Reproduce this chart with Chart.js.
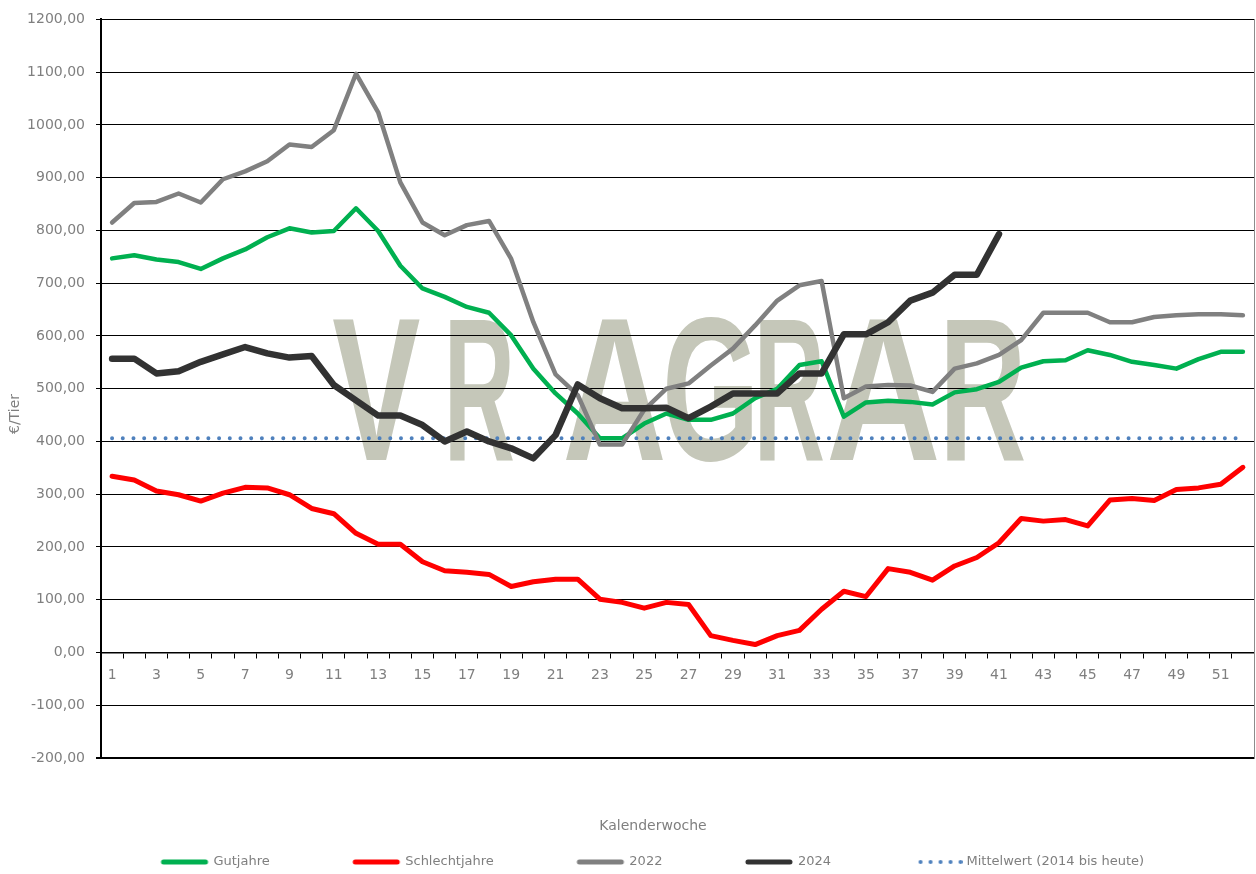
<!DOCTYPE html>
<html>
<head>
<meta charset="utf-8">
<script src="https://cdn.jsdelivr.net/npm/chart.js@4.4.0/dist/chart.umd.min.js"></script>
<style>
  html, body { margin: 0; padding: 0; background: #ffffff; }
  #wrap { width: 1256px; height: 874px; }
</style>
</head>
<body>
<div id="wrap"><canvas id="c" width="1256" height="874"></canvas></div>
<script>
const weeks = ['1','2','3','4','5','6','7','8','9','10','11','12','13','14','15','16','17','18','19','20','21','22','23','24','25','26','27','28','29','30','31','32','33','34','35','36','37','38','39','40','41','42','43','44','45','46','47','48','49','50','51','52'];

const gutjahre = [747,753,745,740,727,747,764,787,804,796,799,842,799,733,690,674,655,644,601,538,491,453,406,406,434,453,441,441,453,482,500,545,552,447,474,477,475,470,493,499,513,540,552,554,573,564,551,545,538,556,570,570];

const schlechtjahre = [334,327,306,299,287,302,313,312,299,273,263,226,205,205,172,155,152,148,125,134,139,139,101,95,84,95,91,32,23,15,32,42,82,116,106,159,152,137,164,180,208,254,249,252,240,289,292,288,309,312,319,351];

const jahr2022 = [815,852,854,870,853,897,912,931,963,958,990,1097,1024,891,815,791,810,818,746,626,527,488,394,394,460,500,510,544,576,620,667,696,704,482,504,507,506,494,538,548,564,592,644,644,644,626,626,636,639,641,641,639];

const jahr2024 = [557,557,529,533,551,565,579,567,559,562,507,478,449,449,431,400,419,400,387,368,412,508,482,463,463,464,444,466,491,491,491,529,529,603,603,626,667,682,716,716,793,null,null,null,null,null,null,null,null,null,null,null];

const mittelwert = [406,406,406,406,406,406,406,406,406,406,406,406,406,406,406,406,406,406,406,406,406,406,406,406,406,406,406,406,406,406,406,406,406,406,406,406,406,406,406,406,406,406,406,406,406,406,406,406,406,406,406,406];

const seriesNames = ['Gutjahre', 'Schlechtjahre', '2022', '2024', 'Mittelwert (2014 bis heute)'];
const seriesColors = ['#00b050', '#ff0000', '#808080', '#323232', '#4f81bd'];

const yMin = -200, yMax = 1200, yStep = 100;
const FONT = 'DejaVu Sans';
const TEXT_GRAY = '#7f7f7f';

// watermark "VR AGRAR" letters (decoration, left/right ink edges in px)
const watermarkLetters = [['V',333,420],['R',450,513],['A',566,663],['G',667,752],['R',760,823],['A',830,937],['R',947,1024]];

function legendLine(color, dotted) {
  const c = document.createElement('canvas');
  c.width = 50; c.height = 8;
  const g = c.getContext('2d');
  g.fillStyle = color; g.strokeStyle = color;
  if (dotted) {
    for (let k = 0; k < 5; k++) {
      g.beginPath(); g.arc(8 + k * 10, 4, 2, 0, Math.PI * 2); g.fill();
    }
  } else {
    g.lineWidth = 5; g.lineCap = 'round';
    g.beginPath(); g.moveTo(4, 4); g.lineTo(46, 4); g.stroke();
  }
  return c;
}

const decor = {
  id: 'decor',
  afterLayout(chart) {
    const lg = chart.legend;
    if (lg) { lg.left = 52; lg.width = lg.right - lg.left; }
  },
  beforeDraw(chart) {
    const ctx = chart.ctx;
    ctx.save();
    ctx.fillStyle = 'rgb(197,199,185)';
    ctx.font = 'bold 205px "Liberation Sans"';
    ctx.textBaseline = 'alphabetic';
    ctx.textAlign = 'left';
    watermarkLetters.forEach(([ch, l, r]) => {
      const m = ctx.measureText(ch);
      const inkW = m.actualBoundingBoxRight + m.actualBoundingBoxLeft;
      const s = (r - l) / inkW;
      ctx.save();
      ctx.translate(l + s * m.actualBoundingBoxLeft, 460);
      ctx.scale(s, 1);
      ctx.fillText(ch, 0, 0);
      ctx.restore();
    });
    ctx.restore();
  },
  afterDraw(chart) {
    const ctx = chart.ctx;
    ctx.save();
    ctx.translate(15, 414);
    ctx.rotate(-Math.PI / 2);
    ctx.fillStyle = TEXT_GRAY;
    ctx.font = '14px "' + FONT + '"';
    ctx.textAlign = 'center';
    ctx.textBaseline = 'middle';
    ctx.fillText('€/Tier', 0, 0);
    ctx.restore();
  }
};

const lineBase = { pointRadius: 0, pointHoverRadius: 0, tension: 0, fill: false, borderJoinStyle: 'round', borderCapStyle: 'round' };

new Chart(document.getElementById('c'), {
  type: 'line',
  data: {
    labels: weeks,
    datasets: [
      Object.assign({ label: seriesNames[0], data: gutjahre, borderColor: seriesColors[0], backgroundColor: seriesColors[0], borderWidth: 4.5, order: 3 }, lineBase),
      Object.assign({ label: seriesNames[1], data: schlechtjahre, borderColor: seriesColors[1], backgroundColor: seriesColors[1], borderWidth: 5, order: 2 }, lineBase),
      Object.assign({ label: seriesNames[2], data: jahr2022, borderColor: seriesColors[2], backgroundColor: seriesColors[2], borderWidth: 4.5, order: 1 }, lineBase),
      Object.assign({ label: seriesNames[3], data: jahr2024, borderColor: seriesColors[3], backgroundColor: seriesColors[3], borderWidth: 6.5, order: 0 }, lineBase),
      Object.assign({ label: seriesNames[4], data: mittelwert, borderColor: seriesColors[4], backgroundColor: seriesColors[4], borderWidth: 4, borderDash: [0, 10.7], order: 4 }, lineBase)
    ]
  },
  options: {
    responsive: false,
    animation: false,
    devicePixelRatio: 1,
    layout: { padding: { left: 0, right: 2, top: 17, bottom: -4.5 } },
    scales: {
      x: {
        type: 'category',
        position: { y: 0 },
        offset: true,
        grid: { display: true, drawOnChartArea: false, drawTicks: true, tickLength: 5, color: '#000000', lineWidth: 1, offset: true },
        border: { display: true, color: '#000000', width: 1.5 },
        ticks: {
          autoSkip: false, maxRotation: 0, minRotation: 0, padding: 9,
          color: TEXT_GRAY, font: { family: FONT, size: 14 },
          callback: function (val, idx) { return idx % 2 === 0 ? this.getLabelForValue(val) : ''; }
        }
      },
      y: {
        type: 'linear',
        position: 'left',
        min: yMin, max: yMax,
        afterFit: (s) => { s.width = 101; },
        grid: { color: '#000000', lineWidth: (c) => (c.tick && c.tick.value === yMin ? 2 : 1), drawTicks: true, tickLength: 5 },
        border: { display: true, color: '#000000', width: 2 },
        ticks: {
          stepSize: yStep, padding: 11, color: TEXT_GRAY, font: { family: FONT, size: 14 },
          callback: (v) => v.toFixed(2).replace('.', ',')
        }
      },
      yR: {
        type: 'linear',
        position: 'right',
        min: yMin, max: yMax,
        afterFit: (s) => { s.width = 0; },
        grid: { display: false, drawTicks: false },
        border: { display: true, color: '#8c8c8c', width: 1 },
        ticks: { display: false }
      }
    },
    plugins: {
      tooltip: { enabled: false },
      title: { display: false },
      legend: {
        position: 'bottom',
        align: 'center',
        title: {
          display: true, text: 'Kalenderwoche', color: TEXT_GRAY, position: 'center',
          font: { family: FONT, size: 14 },
          padding: { top: 61, bottom: -64.3 }
        },
        labels: {
          usePointStyle: true,
          pointStyleWidth: 45,
          padding: 84,
          color: TEXT_GRAY,
          font: { family: FONT, size: 13 },
          generateLabels: (chart) => chart.data.datasets.map((ds, i) => ({
            text: ds.label,
            fillStyle: ds.borderColor,
            strokeStyle: ds.borderColor,
            fontColor: TEXT_GRAY,
            lineWidth: 0,
            hidden: false,
            datasetIndex: i,
            pointStyle: legendLine(ds.borderColor, i === 4)
          }))
        }
      }
    }
  },
  plugins: [decor]
});
</script>
</body>
</html>
